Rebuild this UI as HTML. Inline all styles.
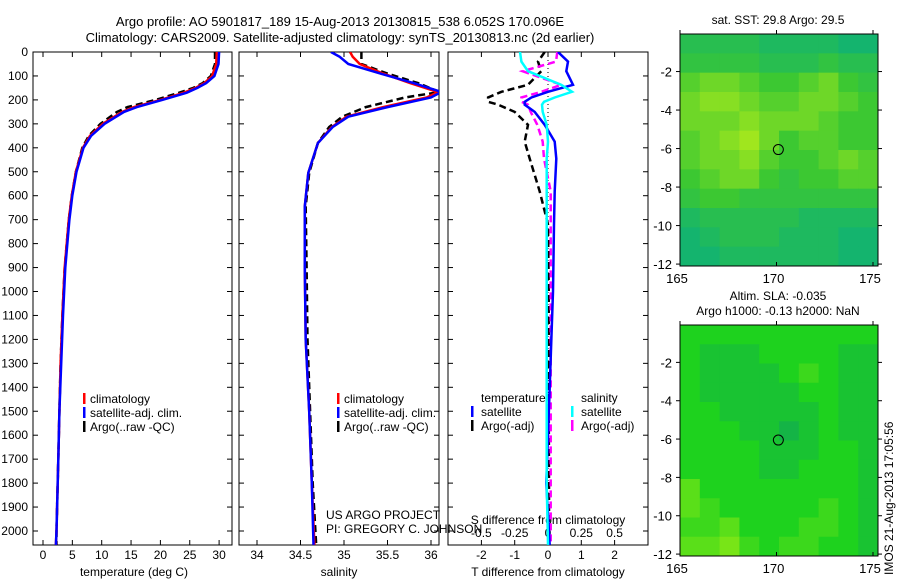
<!DOCTYPE html>
<html><head><meta charset="utf-8"><style>
body{margin:0;background:#fff;}
svg{display:block;font-family:"Liberation Sans",sans-serif;}
text{fill:#000;}
</style></head><body>
<svg id="c" width="900" height="580" viewBox="0 0 900 580">
<defs>
<clipPath id="cp1"><rect x="33" y="52" width="199" height="493"/></clipPath>
<clipPath id="cp2"><rect x="239" y="52" width="200" height="493"/></clipPath>
<clipPath id="cp3"><rect x="448" y="52" width="200" height="493"/></clipPath>
</defs>
<text x="340" y="26" text-anchor="middle" font-size="13">Argo profile: AO 5901817_189 15-Aug-2013 20130815_538 6.052S 170.096E</text>
<text x="340" y="42" text-anchor="middle" font-size="13">Climatology: CARS2009. Satellite-adjusted climatology: synTS_20130813.nc (2d earlier)</text>
<g id="g"></g>
</svg>
<script>
const depthT=[0,50,100,130,150,170,200,230,250,300,350,400,500,600,700,900,1100,1300,1500,1700,2000,2058];
const tClim=[29.6,29.5,28.8,27.5,26,24,20,15.5,13.5,10.2,8,6.8,5.6,4.9,4.4,3.7,3.3,3.0,2.8,2.6,2.3,2.2];
const tSat=[30,29.9,29.2,27.8,26.3,24.5,20.3,16,13.8,10.5,8.2,6.9,5.7,5.0,4.5,3.8,3.4,3.1,2.8,2.6,2.3,2.2];
const tArgo=[29.3,29.3,28.6,27.2,25.6,23.2,19.2,14.4,12.6,9.8,7.8,6.7,5.6,4.9,4.4,3.7,3.3,3.0,2.8,2.6,2.3,2.3];
const depthS=[0,20,50,90,130,167,190,230,270,313,380,505,645,900,1200,1500,1800,2058];
const sClim=[35.07,35.1,35.18,35.45,35.76,36.08,35.95,35.45,35.03,34.86,34.70,34.59,34.55,34.55,34.56,34.6,34.63,34.66];
const sSat=[34.85,34.95,35.05,35.42,35.8,36.12,36.0,35.5,35.05,34.87,34.70,34.59,34.55,34.55,34.56,34.6,34.63,34.65];
const sArgo=[35.2,35.2,35.2,35.5,35.85,36.1,35.7,35.25,34.98,34.83,34.70,34.6,34.56,34.57,34.58,34.61,34.64,34.68];
const depthD=[0,40,80,137,166,190,208,220,250,304,374,445,582,720,1000,1400,1800,2058];
const dTsat=[0.3,0.6,0.55,0.75,0,-0.5,-0.7,-0.7,-0.4,-0.1,0.2,0.25,0.2,0.18,0.15,0.05,-0.05,0.05];
const dTargo=[-0.1,-0.3,-0.2,-0.6,-1.4,-1.8,-1.8,-1.5,-1.0,-0.6,-0.7,-0.55,-0.25,0,0.02,0.02,0.03,0.03];
const dSsat=[-0.21,-0.2,-0.15,0.1,0.18,0.05,-0.03,-0.045,-0.04,-0.01,0,-0.01,-0.01,-0.01,-0.01,-0.01,-0.01,0];
const dSargo=[0.07,0.06,-0.19,0.1,-0.05,-0.2,-0.2,-0.15,-0.13,-0.08,-0.04,-0.03,0.02,0.02,0.02,0.02,0.02,0.02];
const depthTicks=[0,100,200,300,400,500,600,700,800,900,1000,1100,1200,1300,1400,1500,1600,1700,1800,1900,2000];
const tTicks=[0,5,10,15,20,25,30];
const sTicks=[34,34.5,35,35.5,36];
const dTticks=[-2,-1,0,1,2];
const dSticks=[-0.5,-0.25,0,0.25,0.5];
const lonTicks=[165,170,175];
const latTicks=[-2,-4,-6,-8,-10,-12];
const sst=[[2,2,2,2,1,1,1,1,0,0],[3,3,3,3,2,2,2,3,2,2],[5,6,6,5,4,4,5,6,4,3],[6,7,7,6,5,5,6,6,5,4],[6,6,6,7,6,6,6,5,4,4],[5,6,7,8,6,4,5,5,4,4],[5,6,6,7,5,4,4,5,6,5],[4,5,6,6,4,3,4,4,5,5],[3,4,4,3,3,3,3,3,3,3],[1,2,2,2,2,2,1,1,1,1],[0,1,2,2,2,1,1,1,0,0],[0,0,1,1,1,1,1,1,0,0]];
const sla=[[4,4,4,4,4,4,4,4,4,4],[4,3,3,3,4,4,4,4,3,3],[4,3,3,3,3,4,5,4,3,3],[4,3,3,3,3,3,4,4,3,3],[4,4,3,3,3,3,3,4,3,3],[4,4,4,3,3,2,3,4,3,3],[4,4,4,4,3,3,3,4,4,3],[4,4,4,4,3,3,4,4,4,3],[6,4,4,4,4,4,4,4,4,3],[6,5,4,4,4,4,4,5,4,3],[5,5,6,4,4,4,5,5,4,3],[6,6,7,5,4,5,5,4,4,3]];

const NS="http://www.w3.org/2000/svg";
const G=document.getElementById('g');
function el(t,a,p){const e=document.createElementNS(NS,t);for(const k in a)e.setAttribute(k,a[k]);(p||G).appendChild(e);return e;}
function txt(x,y,s,fs,anc,p){const e=el('text',{x:x,y:y,'font-size':fs||12,'text-anchor':anc||'middle'},p);e.textContent=s;return e;}
const Y=d=>52+d*0.2395;
function panel(x0,x1,name){
 const r=el('rect',{x:x0,y:52,width:x1-x0,height:493,fill:'none',stroke:'#000','stroke-width':1});
 
 
 depthTicks.forEach(d=>{el('line',{x1:x0,x2:x0+5,y1:Y(d),y2:Y(d),stroke:'#000'});el('line',{x1:x1-5,x2:x1,y1:Y(d),y2:Y(d),stroke:'#000'});});
}
function line(xs,ds,X,col,dash,clip,name){
 const pts=xs.map((v,i)=>X(v).toFixed(1)+','+Y(ds[i]).toFixed(1)).join(' ');
 const p=el('polyline',{points:pts,fill:'none',stroke:col,'stroke-width':2.5,'clip-path':'url(#'+clip+')'});
 if(dash)p.setAttribute('stroke-dasharray',dash);
 
 
}
const XT=v=>43+v*5.87;
panel(33,232,'temperature-plot-area');
depthTicks.forEach(d=>{const t=txt(28,Y(d)+4,String(d),12,'end');});
tTicks.forEach(v=>{el('line',{x1:XT(v),x2:XT(v),y1:545,y2:540,stroke:'#000'});el('line',{x1:XT(v),x2:XT(v),y1:52,y2:57,stroke:'#000'});txt(XT(v),559,String(v));});
txt(134,576,'temperature (deg C)');
line(tArgo,depthT,XT,'#000','7,4','cp1','temp-argo-line');
line(tClim,depthT,XT,'#f00',null,'cp1','temp-climatology-line');
line(tSat,depthT,XT,'#00f',null,'cp1','temp-satellite-line');
const XS=v=>257+(v-34)*87;
panel(239,439,'salinity-plot-area');
sTicks.forEach(v=>{el('line',{x1:XS(v),x2:XS(v),y1:545,y2:540,stroke:'#000'});el('line',{x1:XS(v),x2:XS(v),y1:52,y2:57,stroke:'#000'});txt(XS(v),559,String(v));});
txt(339,576,'salinity');
line(sArgo,depthS,XS,'#000','7,4','cp2','sal-argo-line');
line(sClim,depthS,XS,'#f00',null,'cp2','sal-climatology-line');
line(sSat,depthS,XS,'#00f',null,'cp2','sal-satellite-line');
[[83,'temp-legend'],[337,'sal-legend']].forEach(([lx,nm])=>{
 const g=el('g',{});
 [['#f00','climatology'],['#00f','satellite-adj. clim.'],['#000','Argo(..raw -QC)']].forEach((it,i)=>{
  el('rect',{x:lx,y:393+i*14,width:2.5,height:11,fill:it[0]},g);txt(lx+7,403+i*14,it[1],12,'start',g);});
});
const XD=v=>548+v*33.3;
const XDS=v=>548+v*4*33.3;
panel(448,648,'difference-plot-area');
el('line',{x1:548,x2:548,y1:52,y2:545,stroke:'#000','stroke-dasharray':'1,3'});
dTticks.forEach(v=>{el('line',{x1:XD(v),x2:XD(v),y1:545,y2:540,stroke:'#000'});el('line',{x1:XD(v),x2:XD(v),y1:52,y2:57,stroke:'#000'});txt(XD(v),559,String(v));});
dSticks.forEach(v=>{txt(XDS(v),537,String(v));});
txt(548,524,'S difference from climatology');
txt(548,576,'T difference from climatology');
line(dTargo,depthD,XD,'#000','7,4','cp3','dT-argo-line');
line(dSargo,depthD,XDS,'#f0f','7,4','cp3','dS-argo-line');
line(dTsat,depthD,XD,'#00f',null,'cp3','dT-satellite-line');
line(dSsat,depthD,XDS,'#0ff',null,'cp3','dS-satellite-line');
{const g=el('g',{});
 txt(481,402,'temperature',12,'start',g);txt(581,402,'salinity',12,'start',g);
 [['#00f','satellite',471],['#000','Argo(-adj)',471],['#0ff','satellite',571],['#f0f','Argo(-adj)',571]].forEach((it,i)=>{
  const yy=416+(i%2)*14;el('rect',{x:it[2],y:yy-10,width:2.5,height:11,fill:it[0]},g);txt(it[2]+10,yy,it[1],12,'start',g);});
}
txt(326,519,'US ARGO PROJECT',12,'start');
txt(326,533,'PI: GREGORY C. JOHNSON',12,'start');
function mkcol(a){return v=>{let t=v/4,i=0;if(t>1){i=1;t-=1;}if(t>1)t=1;const c=a[i].map((q,k)=>Math.round(q+(a[i+1][k]-q)*t));return 'rgb('+c+')';};}
const col1=mkcol([[20,180,110],[60,200,50],[160,230,30]]);
const col2=mkcol([[10,150,110],[30,210,30],[150,235,20]]);
function map(data,top,bot,name,titles,col){
 const x0=680,x1=878;
 const g=el('g',{});
 const LON=v=>680+(v-165)*19.3, LAT=v=>top+(-0.05-v)*(bot-top)/12.05;
 const rows=data.length,cols=data[0].length,cw=(x1-x0)/cols,ch=(bot-top)/rows;
 data.forEach((r,i)=>r.forEach((v,j)=>el('rect',{x:x0+j*cw,y:top+i*ch,width:cw+0.5,height:ch+0.5,fill:col(v)},g)));
 el('rect',{x:x0,y:top,width:x1-x0,height:bot-top,fill:'none',stroke:'#000'},g);
 lonTicks.forEach(v=>{el('line',{x1:LON(v),x2:LON(v),y1:bot,y2:bot-4,stroke:'#000'},g);el('line',{x1:LON(v),x2:LON(v),y1:top,y2:top-4,stroke:'#000'},g);txt(LON(v)-3,bot+17,String(v),13,'middle',g);});
 latTicks.forEach(v=>{el('line',{x1:x0,x2:x0-4,y1:LAT(v),y2:LAT(v),stroke:'#000'},g);el('line',{x1:x1,x2:x1+4,y1:LAT(v),y2:LAT(v),stroke:'#000'},g);txt(x0-8,LAT(v)+5,String(v),13,'end',g);});
 el('circle',{cx:LON(170.096),cy:LAT(-6.052),r:5,fill:'none',stroke:'#000'},g);
 titles.forEach((t,i)=>txt(778,top-10-(titles.length-1-i)*15,t,12,'middle',g));
}
map(sst,34,266,'sst-map',['sat. SST: 29.8 Argo: 29.5'],col1);
map(sla,325,556,'sla-map',['Altim. SLA: -0.035','Argo h1000: -0.13 h2000: NaN'],col2);
{const t=txt(893,575,'IMOS 21-Aug-2013 17:05:56',12,'start');t.setAttribute('transform','rotate(-90 893 575)');}
</script>
</body></html>
